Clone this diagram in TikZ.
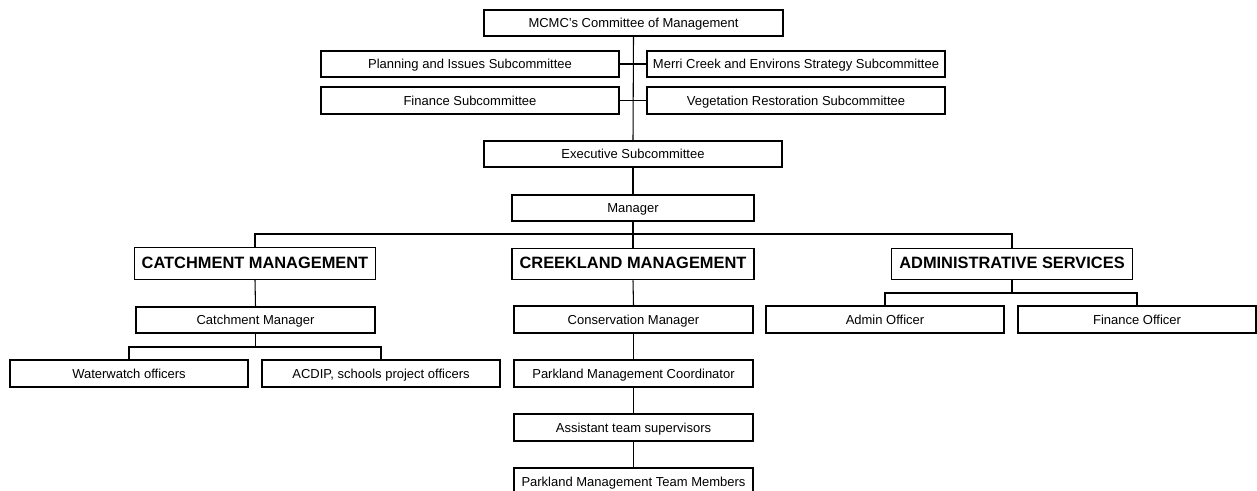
\documentclass[tikz,border=0pt]{standalone}
\usepackage{fontspec}
\setmainfont{Liberation Sans}
\begin{document}
\begin{tikzpicture}[x=0.75pt,y=-0.75pt,
  box/.style={draw=black,line width=0.85pt,rectangle,inner sep=0pt,minimum height=26*0.75pt,
    text height=0.716em,text depth=0pt,
    font=\fontsize{9.75pt}{11pt}\selectfont},
  wide/.style={box,minimum width=298*0.75pt},
  mid/.style={box,minimum width=240*0.75pt},
  head/.style={box,minimum width=241*0.75pt,minimum height=31.5*0.75pt,
    font=\fontsize{12.3pt}{14pt}\selectfont\bfseries},
  link/.style={draw=black,line width=0.8pt}]
\useasboundingbox (0,0) rectangle (1257,490);
\fill[white] (0,0) rectangle (1257,490);

\node[wide,minimum width=299*0.75pt] (mcmc) at (633.5,23) {MCMC's Committee of Management};
\node[wide] (plan) at (470,64) {Planning and Issues Subcommittee};
\node[wide] (merri) at (796,64) {Merri Creek and Environs Strategy Subcommittee};
\node[wide,minimum height=27*0.75pt] (finsub) at (470,100.5) {Finance Subcommittee};
\node[wide,minimum height=27*0.75pt] (veg) at (796,100.5) {Vegetation Restoration Subcommittee};
\node[wide] (exec) at (633,154) {Executive Subcommittee};
\node[mid,minimum width=242*0.75pt] (mgr) at (633,208) {Manager};

\node[head] (catch) at (255,263.5) {CATCHMENT MANAGEMENT};
\node[head,minimum width=242*0.75pt] (creek) at (633,264) {CREEKLAND MANAGEMENT};
\node[head] (admin) at (1012,264) {ADMINISTRATIVE SERVICES};

\node[mid,minimum width=239*0.75pt] (catchmgr) at (255.5,320) {Catchment Manager};
\node[mid,minimum width=238*0.75pt,minimum height=27*0.75pt] (water) at (129,373.5) {Waterwatch officers};
\node[mid,minimum width=238*0.75pt,minimum height=27*0.75pt] (acdip) at (381,373.5) {ACDIP, schools project officers};

\node[mid,minimum width=239*0.75pt,minimum height=27*0.75pt] (consmgr) at (633.5,319.5) {Conservation Manager};
\node[mid,minimum width=239*0.75pt,minimum height=27*0.75pt] (pcoord) at (633.5,373.5) {Parkland Management Coordinator};
\node[mid,minimum width=239*0.75pt,minimum height=27*0.75pt] (assist) at (633.5,427.5) {Assistant team supervisors};
\node[mid,minimum width=239*0.75pt,minimum height=27*0.75pt] (team) at (633.5,481.5) {Parkland Management Team Members};

\node[mid,minimum width=238*0.75pt,minimum height=27*0.75pt] (adminoff) at (885,319.5) {Admin Officer};
\node[mid,minimum width=238*0.75pt,minimum height=27*0.75pt] (finoff) at (1137,319.5) {Finance Officer};

\coordinate (j1) at (633,234);
\coordinate (j2) at (255.5,347);
\coordinate (j3) at (1012,293);

\draw[link] (mcmc.south) -- (exec.north);
\draw[link] (plan.east) -- (merri.west);
\draw[link] (finsub.east) -- (veg.west);
\draw[link] (exec.south) -- (mgr.north);
\draw[link] (mgr.south) -- (creek.north);
\draw[link] (catch.north) |- (j1) -| (admin.north);
\draw[link] (catch.south) -- (catchmgr.north);
\draw[link] (catchmgr.south) -- (j2);
\draw[link] (water.north) |- (j2) -| (acdip.north);
\draw[link] (creek.south) -- (consmgr.north);
\draw[link] (consmgr.south) -- (pcoord.north);
\draw[link] (pcoord.south) -- (assist.north);
\draw[link] (assist.south) -- (team.north);
\draw[link] (admin.south) -- (j3);
\draw[link] (adminoff.north) |- (j3) -| (finoff.north);
\end{tikzpicture}
\end{document}
